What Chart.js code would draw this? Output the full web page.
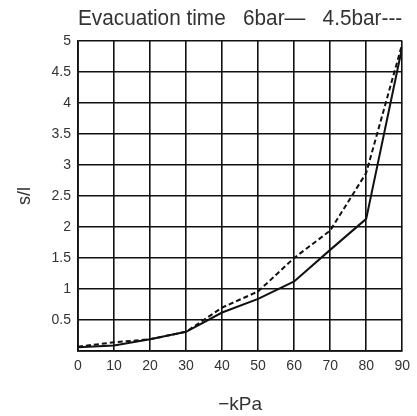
<!DOCTYPE html>
<html>
<head>
<meta charset="utf-8">
<script src="https://cdn.jsdelivr.net/npm/chart.js@4.4.1/dist/chart.umd.min.js"></script>
<style>
html,body{margin:0;padding:0;background:#fff;}
#wrap{width:417px;height:416px;}
</style>
</head>
<body>
<div id="wrap"><canvas id="c" width="417" height="416"></canvas></div>
<script>
const kpa = [0, 10, 20, 30, 40, 50, 60, 70, 80, 90];
const bar6 = [0.06, 0.09, 0.19, 0.31, 0.62, 0.84, 1.12, 1.63, 2.13, 4.9];
const bar45 = [0.07, 0.14, 0.19, 0.31, 0.70, 0.96, 1.50, 1.94, 2.87, 4.95];
const yTicks = [0.5, 1, 1.5, 2, 2.5, 3, 3.5, 4, 4.5, 5];
const xTicks = [0, 10, 20, 30, 40, 50, 60, 70, 80, 90];
const titleText = 'Evacuation time\u00A0\u00A0\u00A06bar\u2014\u00A0\u00A0\u00A04.5bar---';
const xTitle = '\u2212kPa';
const yTitle = 's/l';

const FONT = 'Liberation Sans, Arial, Helvetica, sans-serif';
const TXT = '#333';

new Chart(document.getElementById('c'), {
  type: 'line',
  data: {
    datasets: [
      {
        label: '6bar',
        data: kpa.map((x, i) => ({x: x, y: bar6[i]})),
        borderColor: '#111',
        borderWidth: 2,
        pointRadius: 0,
        tension: 0,
        fill: false
      },
      {
        label: '4.5bar',
        data: kpa.map((x, i) => ({x: x, y: bar45[i]})),
        borderColor: '#111',
        borderWidth: 2,
        borderDash: [5, 3],
        pointRadius: 0,
        tension: 0,
        fill: false
      }
    ]
  },
  options: {
    responsive: false,
    animation: false,
    devicePixelRatio: 1,
    layout: {padding: {left: 0, right: 13, top: 0, bottom: 0}},
    plugins: {
      legend: {display: false},
      tooltip: {enabled: false},
      title: {
        display: true,
        text: titleText,
        fullSize: false,
        color: TXT,
        font: {family: FONT, size: 21.5, weight: 'normal'},
        padding: {top: 6, bottom: 9}
      }
    },
    scales: {
      x: {
        type: 'linear',
        min: 0,
        max: 90,
        afterBuildTicks: s => { s.ticks = xTicks.map(v => ({value: v})); },
        ticks: {
          color: TXT,
          font: {family: FONT, size: 14},
          padding: 7,
          maxRotation: 0,
          autoSkip: false
        },
        grid: {color: '#111', lineWidth: 1.6, drawTicks: false},
        border: {color: '#111', width: 1.8},
        title: {
          display: true,
          text: xTitle,
          color: TXT,
          font: {family: FONT, size: 19},
          padding: {top: 0, bottom: 0}
        },
        afterFit: s => { s.height = 65; }
      },
      y: {
        type: 'linear',
        min: 0,
        max: 5,
        afterBuildTicks: s => { s.ticks = [{value: 0}].concat(yTicks.map(v => ({value: v}))); },
        ticks: {
          color: TXT,
          font: {family: FONT, size: 14},
          padding: 7,
          autoSkip: false,
          callback: v => (v === 0 ? '' : String(v))
        },
        grid: {color: '#111', lineWidth: 1.6, drawTicks: false},
        border: {color: '#111', width: 1.8},
        title: {
          display: true,
          text: yTitle,
          color: TXT,
          font: {family: FONT, size: 18},
          padding: {top: 14, bottom: 0}
        },
        afterFit: s => { s.width = 78; }
      }
    }
  }
});
</script>
</body>
</html>
